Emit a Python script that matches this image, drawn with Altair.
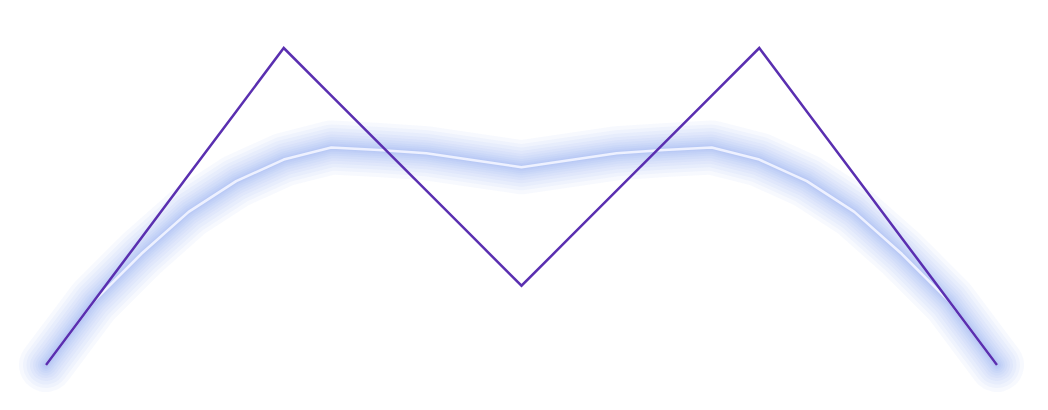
import altair as alt
import pandas as pd

x_vals = list(range(21))
y_vals = [0, 20, 40, 60, 80, 100, 85, 70, 55, 40, 25, 40, 55, 70, 85, 100, 80, 60, 40, 20, 0]
smooth_vals = [0, 20, 35, 48.3, 58, 64.8, 68.6, 67.8, 66.8, 64.6, 62.4,
               64.6, 66.8, 67.8, 68.6, 64.8, 58, 48.3, 35, 20, 0]

df = pd.DataFrame({"x": x_vals, "y": y_vals, "s": smooth_vals})

xs = alt.Scale(domain=[0, 20], nice=False, zero=False)
ys = alt.Scale(domain=[0, 100], nice=False, zero=False)

base = alt.Chart(df)

enc_s = dict(
    x=alt.X("x:Q", scale=xs, axis=None),
    y=alt.Y("s:Q", scale=ys, axis=None),
)

glow_layers = []
for w in [54, 46, 39, 32, 26, 21, 16, 12, 8, 5]:
    glow_layers.append(
        base.mark_line(color="#4a6cf0", strokeWidth=w, opacity=0.045,
                       strokeCap="round", strokeJoin="round").encode(**enc_s)
    )

smooth_line = base.mark_line(color="#eef1ff", strokeWidth=2.6, strokeJoin="round").encode(**enc_s)

main = base.mark_line(color="#5a2fb0", strokeWidth=2.5).encode(
    x=alt.X("x:Q", scale=xs, axis=None),
    y=alt.Y("y:Q", scale=ys, axis=None),
)

chart = alt.layer(*glow_layers, smooth_line, main).properties(
    width=951,
    height=317,
    padding={"left": 38, "top": 40, "right": 43, "bottom": 37},
    autosize=alt.AutoSizeParams(type="none"),
).configure_view(stroke=None)

chart.save("out.html", embed_options={"renderer": "svg", "actions": False})
